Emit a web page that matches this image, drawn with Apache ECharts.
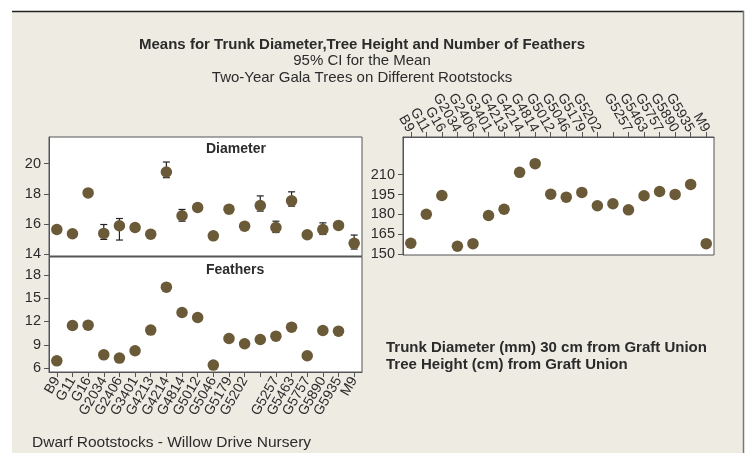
<!DOCTYPE html>
<html>
  <head>
    <meta charset="utf-8" />
    <title>Gala rootstocks</title>
    <script src="https://cdn.jsdelivr.net/npm/echarts@6.0.0/dist/echarts.min.js"></script>
    <style>
      body { margin: 0; background: #fff; }
      #main { width: 747px; height: 453px; }
    </style>
  </head>
<body>
  <div id="main"></div>
  <script type="text/javascript">
// one label is missing in the source figure (20 ticks, 19 names)
var rootstocks = ['B9', 'G11', 'G16', 'G2034', 'G2406', 'G3401', 'G4213', 'G4214', 'G4814', 'G5012',
  'G5046', 'G5179', 'G5202', '', 'G5257', 'G5463', 'G5757', 'G5890', 'G5935', 'M9'];

var diameter = [15.63, 15.35, 18.06, 15.37, 15.88, 15.76, 15.32, 19.45, 16.54, 17.09,
  15.21, 16.98, 15.85, 17.22, 15.76, 17.53, 15.28, 15.63, 15.90, 14.71];
var diameterLow = [null, null, null, 14.97, 14.93, null, null, 19.07, 16.18, null,
  null, null, null, 16.85, 15.43, 17.18, null, 15.30, null, 14.33];
var diameterHigh = [null, null, null, 15.96, 16.36, null, null, 20.11, 16.96, null,
  null, null, null, 17.86, 16.18, 18.13, null, 16.07, null, 15.26];

var feathers = [6.94, 11.49, 11.53, 7.71, 7.29, 8.23, 10.89, 16.42, 13.16, 12.51,
  6.39, 9.81, 9.13, 9.69, 10.11, 11.27, 7.59, 10.84, 10.76, null];

var height = [158.1, 180.1, 194.3, 155.8, 157.8, 179.1, 183.9, 211.8, 218.4, 195.3,
  193.0, 196.6, 186.5, 188.0, 183.4, 194.1, 197.3, 195.1, 202.7, 157.8];

var diameterTicks = [14, 16, 18, 20];
var featherTicks = [6, 9, 12, 15, 18];
var heightTicks = [150, 165, 180, 195, 210];

var dotColor = '#6b5a38';
var txt = '#2b2b2b';
var font = 'Liberation Sans';

var chart = echarts.init(document.getElementById('main'));

function catAxis(grid, pos, show) {
  return {
    type: 'category', gridIndex: grid, position: pos, data: rootstocks,
    boundaryGap: true,
    axisLine: { show: true, lineStyle: { color: '#555', width: 1 } },
    axisTick: { show: show, alignWithLabel: true, interval: 0, length: 5, lineStyle: { color: '#555' } },
    axisLabel: { show: show, interval: 0, rotate: 60, margin: 6, color: txt, fontSize: 14, fontFamily: font },
    splitLine: { show: false }
  };
}

function valAxis(grid, min, max, ticks) {
  return {
    type: 'value', gridIndex: grid, min: min, max: max,
    axisLine: { show: true, lineStyle: { color: '#555', width: 1 } },
    axisTick: { show: true, length: 5, customValues: ticks, lineStyle: { color: '#555' } },
    axisLabel: { customValues: ticks, color: txt, fontSize: 14.5, fontFamily: font, margin: 8 },
    splitLine: { show: false }
  };
}

var errData = [];
for (var i = 0; i < rootstocks.length; i++) {
  if (diameterLow[i] != null) errData.push([i, diameterLow[i], diameterHigh[i]]);
}

var option = {
  backgroundColor: '#ffffff',
  animation: false,
  graphic: [
    { type: 'rect', z: -10, shape: { x: 12, y: 11, width: 732, height: 460 },
      style: { fill: '#eeebe3' } },
    { type: 'line', z: -5, shape: { x1: 12, y1: 11.5, x2: 744, y2: 11.5 },
      style: { stroke: '#222', lineWidth: 1.5 } },
    { type: 'line', z: -5, shape: { x1: 743.5, y1: 11, x2: 743.5, y2: 453 },
      style: { stroke: '#777', lineWidth: 1.5 } },
    { type: 'text', left: 32, top: 435,
      style: { text: 'Dwarf Rootstocks - Willow Drive Nursery', fill: txt, font: '15.5px ' + font } },
    { type: 'text', left: 386, top: 339,
      style: { text: 'Trunk Diameter (mm) 30 cm from Graft Union\nTree Height (cm) from Graft Union',
        fill: txt, font: 'bold 15px ' + font, lineHeight: 17 } },
    { type: 'text', left: 206, top: 142, style: { text: 'Diameter', fill: txt, font: 'bold 14px ' + font, textAlign: 'center' } },
    { type: 'text', left: 206, top: 263, style: { text: 'Feathers', fill: txt, font: 'bold 14px ' + font, textAlign: 'center' } }
  ],
  title: [
    { text: 'Means for Trunk Diameter,Tree Height and Number of Feathers', left: 357, top: 32, textAlign: 'center',
      textStyle: { fontSize: 15, fontWeight: 'bold', color: txt, fontFamily: font } },
    { text: '95% CI for the Mean', left: 357, top: 48, textAlign: 'center',
      textStyle: { fontSize: 15, fontWeight: 'normal', color: txt, fontFamily: font } },
    { text: 'Two-Year Gala Trees on Different Rootstocks', left: 357, top: 65, textAlign: 'center',
      textStyle: { fontSize: 15, fontWeight: 'normal', color: txt, fontFamily: font } }
  ],
  grid: [
    { left: 49, top: 137, width: 313, height: 119, show: true, backgroundColor: '#fff', borderColor: '#555', borderWidth: 1 },
    { left: 49, top: 257, width: 313, height: 115, show: true, backgroundColor: '#fff', borderColor: '#555', borderWidth: 1 },
    { left: 403, top: 137, width: 311, height: 118, show: true, backgroundColor: '#fff', borderColor: '#555', borderWidth: 1 }
  ],
  xAxis: [
    catAxis(0, 'bottom', false),
    catAxis(1, 'bottom', true),
    catAxis(2, 'top', true)
  ],
  yAxis: [
    valAxis(0, 13.87, 21.77, diameterTicks),
    valAxis(1, 5.5, 20.3, featherTicks),
    valAxis(2, 149.2, 238.6, heightTicks)
  ],
  series: [
    {
      type: 'custom', xAxisIndex: 0, yAxisIndex: 0, data: errData, z: 3,
      renderItem: function (params, api) {
        var lo = api.coord([api.value(0), api.value(1)]);
        var hi = api.coord([api.value(0), api.value(2)]);
        var w = 3.5;
        var st = { stroke: '#222', lineWidth: 1.2 };
        return { type: 'group', children: [
          { type: 'line', shape: { x1: lo[0], y1: lo[1], x2: hi[0], y2: hi[1] }, style: st },
          { type: 'line', shape: { x1: lo[0] - w, y1: lo[1], x2: lo[0] + w, y2: lo[1] }, style: st },
          { type: 'line', shape: { x1: hi[0] - w, y1: hi[1], x2: hi[0] + w, y2: hi[1] }, style: st }
        ] };
      }
    },
    { type: 'scatter', xAxisIndex: 0, yAxisIndex: 0, data: diameter, symbolSize: 11.5, z: 5,
      itemStyle: { color: dotColor, opacity: 1 } },
    { type: 'scatter', xAxisIndex: 1, yAxisIndex: 1, data: feathers, symbolSize: 11.5,
      itemStyle: { color: dotColor, opacity: 1 } },
    { type: 'scatter', xAxisIndex: 2, yAxisIndex: 2, data: height, symbolSize: 11.5,
      itemStyle: { color: dotColor, opacity: 1 } }
  ]
};

chart.setOption(option);
  </script>
</body>
</html>
